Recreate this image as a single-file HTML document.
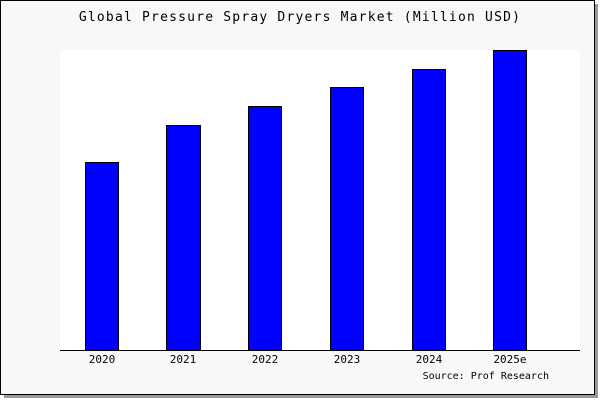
<!DOCTYPE html>
<html><head><style>
body{margin:0;background:#fff;width:600px;height:400px;overflow:hidden}
</style></head><body>
<svg width="600" height="400" xmlns="http://www.w3.org/2000/svg" font-family="'DejaVu Sans Mono','Liberation Mono',monospace">
<rect x="4" y="4" width="594" height="394" fill="#999"/>
<rect x="0.5" y="0.5" width="594" height="394" fill="#f8f8f8" stroke="#000"/>
<rect x="60" y="50" width="520" height="300" fill="#fff"/>
<text x="300" y="21" font-size="13" letter-spacing="1.2" text-anchor="middle">Global Pressure Spray Dryers Market (Million USD)</text>
<g fill="#0000ff" stroke="#000" stroke-width="1">
<rect x="85.5" y="162.5" width="33" height="188"/>
<rect x="166.5" y="125.5" width="34" height="225"/>
<rect x="248.5" y="106.5" width="33" height="244"/>
<rect x="330.5" y="87.5" width="33" height="263"/>
<rect x="412.5" y="69.5" width="33" height="281"/>
<rect x="493.5" y="50.5" width="33" height="300"/>
</g>
<line x1="60" y1="350.5" x2="580" y2="350.5" stroke="#000"/>
<g font-size="11" text-anchor="middle">
<text x="102" y="363">2020</text>
<text x="183" y="363">2021</text>
<text x="265" y="363">2022</text>
<text x="347" y="363">2023</text>
<text x="429" y="363">2024</text>
<text x="510" y="363">2025e</text>
<text x="549" y="379" font-size="10" text-anchor="end">Source: Prof Research</text>
</g>
</svg>
</body></html>
